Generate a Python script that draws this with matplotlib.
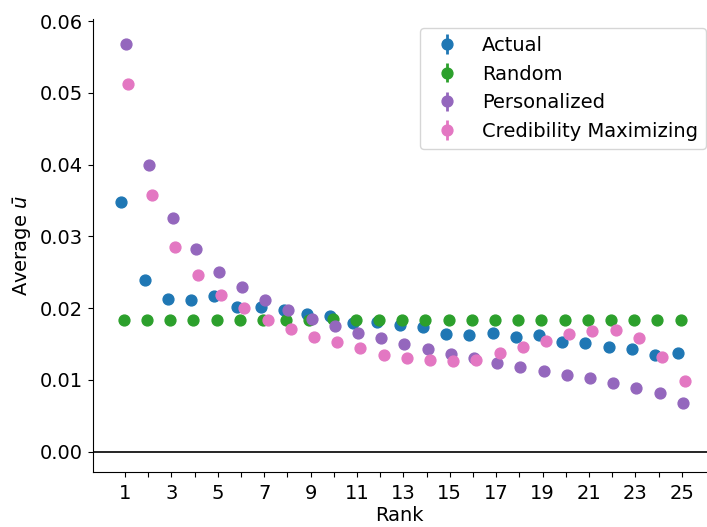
import numpy as np
import matplotlib.pyplot as plt

# valores
rank = np.arange(1, 26)

actual = [0.0348, 0.0239, 0.0213, 0.0212, 0.0217, 0.0201, 0.0202, 0.0197, 0.0192, 0.0189,
          0.0179, 0.0181, 0.0176, 0.0174, 0.0164, 0.0163, 0.0166, 0.0160, 0.0162, 0.0153,
          0.0151, 0.0146, 0.0143, 0.0134, 0.0137]
random_ = [0.0184, 0.0184, 0.0184, 0.0184, 0.0184, 0.0184, 0.0184, 0.0184, 0.0184, 0.0185,
           0.0184, 0.0184, 0.0184, 0.0184, 0.0184, 0.0184, 0.0184, 0.0184, 0.0184, 0.0184,
           0.0184, 0.0184, 0.0184, 0.0184, 0.0184]
personalized = [0.0568, 0.0400, 0.0326, 0.0282, 0.0251, 0.0229, 0.0212, 0.0198, 0.0185, 0.0175,
                0.0166, 0.0158, 0.0150, 0.0143, 0.0136, 0.0131, 0.0124, 0.0118, 0.0113, 0.0107,
                0.0102, 0.0095, 0.0089, 0.0082, 0.0068]
credibility = [0.0513, 0.0357, 0.0285, 0.0246, 0.0218, 0.0200, 0.0183, 0.0171, 0.0160, 0.0153,
               0.0144, 0.0135, 0.0131, 0.0128, 0.0126, 0.0128, 0.0137, 0.0146, 0.0154, 0.0164,
               0.0168, 0.0169, 0.0159, 0.0132, 0.0099]
err = 0.0003

series = [('Actual', actual, '#1f77b4'),
          ('Random', random_, '#2ca02c'),
          ('Personalized', personalized, '#9467bd'),
          ('Credibility Maximizing', credibility, '#e377c2')]
offsets = [-0.15, -0.05, 0.05, 0.15]

plt.rcParams['font.size'] = 14

fig = plt.figure(figsize=(7.07, 5.27), dpi=100)
ax = fig.add_axes([92.7 / 707, 1 - 471.7 / 527, 1 - 92.7 / 707, (471.7 - 19) / 527])

for (nome, vals, cor), dx in zip(series, offsets):
    ax.errorbar(rank + dx, vals, yerr=err, fmt='o', color=cor, ms=7.8, mew=1,
                elinewidth=2, label=nome)

ax.axhline(0, color='black', lw=1.2)
ax.set_xlim(-0.39, 26.09)
ax.set_ylim(-0.0028, 0.0603)
ax.set_xticks(rank)
ax.set_xticklabels([str(r) if r % 2 == 1 else '' for r in rank])
ax.set_yticks(np.arange(0, 0.061, 0.01))
ax.tick_params(axis='x', pad=5.5)
ax.set_xlabel('Rank', labelpad=2)
ax.set_ylabel(r'Average $\bar{u}$')
ax.spines['top'].set_visible(False)
ax.spines['right'].set_visible(False)
ax.legend(loc='upper right', bbox_to_anchor=(0.998, 0.98), borderaxespad=0)

fig.savefig('out.png', dpi=100)
